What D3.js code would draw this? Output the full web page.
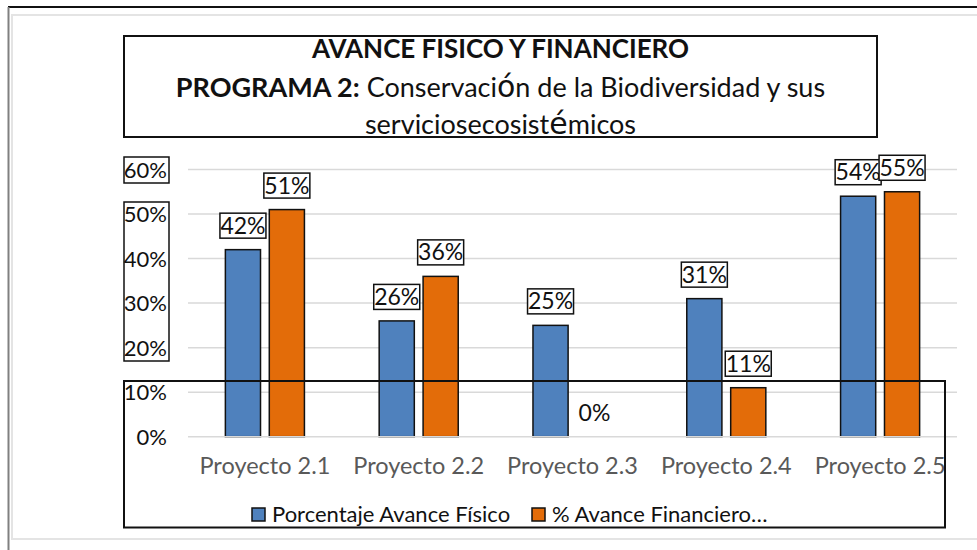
<!DOCTYPE html>
<html>
<head>
<meta charset="utf-8">
<script src="https://cdn.jsdelivr.net/npm/d3@7"></script>
<style>
  body { margin: 0; background: #fff; }
  svg { display: block; font-family: Lato, "Open Sans", sans-serif; }
</style>
</head>
<body>
<div id="chart"></div>
<script>
// chart data
var categories = ["Proyecto 2.1", "Proyecto 2.2", "Proyecto 2.3", "Proyecto 2.4", "Proyecto 2.5"];
var seriesNames = ["Porcentaje Avance Físico", "% Avance Financiero..."];
var legendLabels = ["Porcentaje Avance Físico", "% Avance Financiero…"];
var fisico = [0.42, 0.26, 0.25, 0.31, 0.54];
var financiero = [0.51, 0.36, 0, 0.11, 0.55];
var yTicks = [0, 0.1, 0.2, 0.3, 0.4, 0.5, 0.6];
var colors = ["#4F81BD", "#E36C09"];

function init() {
    var width = 977;
    var height = 550;

    var svg = d3.select("#chart")
        .append("svg")
        .attr("width", width)
        .attr("height", height);

    // outer frame
    svg.append("rect").attr("x", 12).attr("y", 15).attr("width", 970).attr("height", 524)
        .attr("fill", "none").attr("stroke", "#e4e4e4").attr("stroke-width", 2);
    svg.append("line").attr("x1", 8).attr("x2", 977).attr("y1", 7).attr("y2", 7)
        .attr("stroke", "#111").attr("stroke-width", 2);
    svg.append("line").attr("x1", 8.5).attr("x2", 8.5).attr("y1", 7).attr("y2", 550)
        .attr("stroke", "#808080").attr("stroke-width", 2);

    var x = d3.scaleBand()
        .domain(categories)
        .range([188, 957])
        .paddingInner(0.486)
        .paddingOuter(0.243);

    var x1 = d3.scaleBand()
        .domain(seriesNames)
        .range([0, x.bandwidth()])
        .paddingInner(0.2);

    var y = d3.scaleLinear()
        .domain([0, 0.6])
        .range([436.7, 169.5]);

    var pct = d3.format(".0%");

    // gridlines
    svg.append("g")
        .selectAll("line")
        .data(yTicks.filter(d => d > 0))
        .enter()
        .append("line")
        .attr("x1", 188).attr("x2", 957)
        .attr("y1", d => y(d)).attr("y2", d => y(d))
        .attr("stroke", "#d9d9d9")
        .attr("stroke-width", 1.5);

    // bars
    var rows = [];
    categories.forEach(function (c, i) {
        rows.push({cat: c, s: 0, v: fisico[i]});
        rows.push({cat: c, s: 1, v: financiero[i]});
    });

    svg.append("g")
        .selectAll("rect")
        .data(rows.filter(d => d.v > 0))
        .enter()
        .append("rect")
        .attr("x", d => x(d.cat) + x1(seriesNames[d.s]))
        .attr("y", d => y(d.v))
        .attr("width", x1.bandwidth())
        .attr("height", d => y(0) - y(d.v))
        .attr("fill", d => colors[d.s])
        .attr("stroke", "#111")
        .attr("stroke-width", 1.5);

    // zero axis line
    svg.append("line")
        .attr("x1", 188).attr("x2", 957)
        .attr("y1", y(0)).attr("y2", y(0))
        .attr("stroke", "#d9d9d9")
        .attr("stroke-width", 1.5);

    // data labels
    var labels = svg.append("g")
        .selectAll("g")
        .data(rows)
        .enter()
        .append("g")
        .attr("transform", function (d) {
            var cx = x(d.cat) + x1(seriesNames[d.s]) + x1.bandwidth() / 2;
            var cy = d.v > 0 ? y(d.v) - 24 : y(0) - 24;
            return "translate(" + cx + "," + cy + ")";
        });

    labels.filter(d => d.v > 0)
        .append("rect")
        .attr("x", -23).attr("y", -12.5)
        .attr("width", 46).attr("height", 25)
        .attr("fill", "#fff")
        .attr("stroke", "#111")
        .attr("stroke-width", 1.5);

    labels.append("text")
        .attr("text-anchor", "middle")
        .attr("y", 8)
        .attr("font-size", 23)
        .attr("fill", "#111")
        .text(d => pct(d.v));

    // y axis labels
    svg.append("rect").attr("x", 124).attr("y", 157).attr("width", 45).attr("height", 26)
        .attr("fill", "none").attr("stroke", "#111").attr("stroke-width", 1.5);
    svg.append("rect").attr("x", 124).attr("y", 202).attr("width", 45).attr("height", 159)
        .attr("fill", "none").attr("stroke", "#111").attr("stroke-width", 1.5);

    svg.append("g")
        .selectAll("text")
        .data(yTicks)
        .enter()
        .append("text")
        .attr("x", 167)
        .attr("y", d => y(d) + 8)
        .attr("text-anchor", "end")
        .attr("font-size", 22)
        .attr("fill", "#111")
        .text(d => pct(d));

    // category labels
    svg.append("g")
        .selectAll("text")
        .data(categories)
        .enter()
        .append("text")
        .attr("x", d => x(d) + x.bandwidth() / 2)
        .attr("y", 474)
        .attr("text-anchor", "middle")
        .attr("font-size", 23.5)
        .attr("fill", "#595959")
        .text(d => d);

    // big box over lower part
    svg.append("rect").attr("x", 124).attr("y", 381).attr("width", 821).attr("height", 146.5)
        .attr("fill", "none").attr("stroke", "#111").attr("stroke-width", 2);

    // legend
    var legendX = [252, 532];
    var legend = svg.append("g")
        .selectAll("g")
        .data(legendLabels)
        .enter()
        .append("g")
        .attr("transform", (d, i) => "translate(" + legendX[i] + ",508)");
    legend.append("rect")
        .attr("width", 13).attr("height", 13)
        .attr("fill", (d, i) => colors[i])
        .attr("stroke", "#111")
        .attr("stroke-width", 1.5);
    legend.append("text")
        .attr("x", 20)
        .attr("y", 14)
        .attr("font-size", 22)
        .attr("fill", "#111")
        .text(d => d);

    // title box
    svg.append("rect").attr("x", 124).attr("y", 36).attr("width", 753).attr("height", 101)
        .attr("fill", "#fff").attr("stroke", "#111").attr("stroke-width", 2);

    var title = svg.append("g").attr("text-anchor", "middle").attr("fill", "#111");
    title.append("text")
        .attr("x", 500.5).attr("y", 58)
        .attr("font-size", 26).attr("font-weight", "bold")
        .text("AVANCE FISICO Y FINANCIERO");

    var t2 = title.append("text").attr("x", 500.5).attr("y", 97).attr("font-size", 27);
    t2.append("tspan").attr("font-weight", "bold").text("PROGRAMA 2:");
    t2.append("tspan").text(" Conservaci");
    t2.append("tspan").attr("font-family", "DejaVu Sans").attr("font-size", 30).text("ó");
    t2.append("tspan").text("n de la Biodiversidad y sus");

    var t3 = title.append("text").attr("x", 500.5).attr("y", 134).attr("font-size", 27);
    t3.append("tspan").text("serviciosecosist");
    t3.append("tspan").attr("font-family", "DejaVu Sans").attr("font-size", 30).text("é");
    t3.append("tspan").text("micos");
}

window.onload = init;
</script>
</body>
</html>
